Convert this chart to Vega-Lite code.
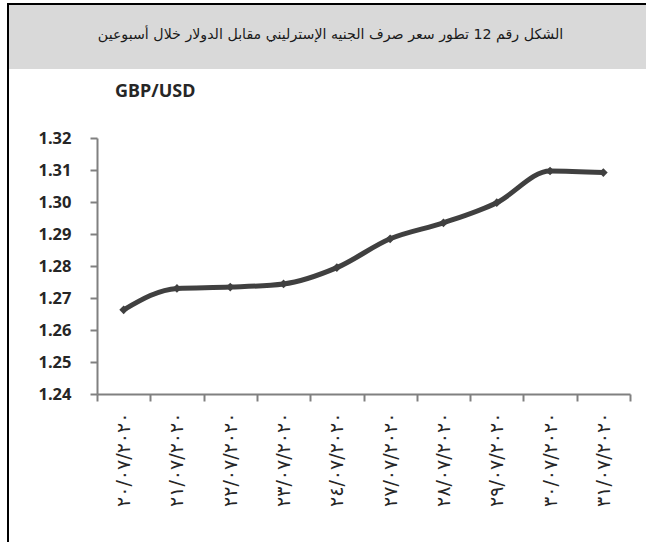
{
  "$schema": "https://vega.github.io/schema/vega-lite/v6.json",
  "background": "white",
  "padding": {"left": 0, "top": 3, "right": 0, "bottom": 0},
  "config": {"view": {"stroke": null}, "concat": {"spacing": 0}},
  "datasets": {
    "rates": [
      {"date": "٢٠/٠٧/٢٠٢٠", "rate": 1.2663},
      {"date": "٢١/٠٧/٢٠٢٠", "rate": 1.2730},
      {"date": "٢٢/٠٧/٢٠٢٠", "rate": 1.2734},
      {"date": "٢٣/٠٧/٢٠٢٠", "rate": 1.2744},
      {"date": "٢٤/٠٧/٢٠٢٠", "rate": 1.2795},
      {"date": "٢٧/٠٧/٢٠٢٠", "rate": 1.2885},
      {"date": "٢٨/٠٧/٢٠٢٠", "rate": 1.2935},
      {"date": "٢٩/٠٧/٢٠٢٠", "rate": 1.2998},
      {"date": "٣٠/٠٧/٢٠٢٠", "rate": 1.3097},
      {"date": "٣١/٠٧/٢٠٢٠", "rate": 1.3092}
    ],
    "caption": [
      {"text": "الشكل رقم 12 تطور سعر صرف الجنيه الإسترليني مقابل الدولار خلال أسبوعين"}
    ]
  },
  "spacing": 0,
  "bounds": "flush",
  "hconcat": [
    {
      "width": 2,
      "height": 539,
      "view": {"fill": "black", "stroke": null},
      "data": {"values": []},
      "mark": "point"
    },
    {
      "spacing": 14,
      "vconcat": [
        {
          "spacing": 0,
          "vconcat": [
            {
              "width": 637,
              "height": 2,
              "view": {"fill": "black", "stroke": null},
              "data": {"values": []},
              "mark": "point"
            },
            {
              "width": 637,
              "height": 64,
              "view": {"fill": "#d9d9d9", "stroke": null},
              "data": {"name": "caption"},
              "mark": {"type": "text", "font": "DejaVu Sans", "fontSize": 14.2, "color": "#1a1a1a", "baseline": "middle", "align": "center", "dy": -2, "dx": 3},
              "encoding": {"text": {"field": "text", "type": "nominal"}}
            }
          ]
        },
        {
          "width": 621,
          "height": 256,
          "data": {"name": "rates"},
          "title": {"text": "GBP/USD", "anchor": "start", "frame": "group", "dx": 106, "offset": 15, "baseline": "alphabetic", "font": "Noto Sans", "fontSize": 18, "fontWeight": "bold", "color": "#262626"},
          "encoding": {
            "x": {
              "field": "date", "type": "ordinal", "sort": null,
              "scale": {"paddingInner": 0, "paddingOuter": 0, "range": [88, 621]},
              "axis": {"title": null, "labelAngle": 270, "labelFont": "DejaVu Sans", "labelFontSize": 19, "labelColor": "#262626", "labelPadding": 11, "tickBand": "extent", "tickSize": 7, "tickColor": "#808080", "tickWidth": 2, "domainColor": "#808080", "domainWidth": 2, "grid": false}
            },
            "y": {
              "field": "rate", "type": "quantitative",
              "scale": {"domain": [1.24, 1.32], "zero": false, "nice": false},
              "axis": {"title": null, "offset": -88, "values": [1.24, 1.25, 1.26, 1.27, 1.28, 1.29, 1.30, 1.31, 1.32], "format": ".2f", "domainColor": "#808080", "domainWidth": 2, "tickColor": "#808080", "tickWidth": 2, "tickSize": 7, "labelPadding": 19, "labelFont": "Noto Sans", "labelFontSize": 16.5, "labelFontWeight": "bold", "labelColor": "#262626", "grid": false}
            }
          },
          "layer": [
            {"mark": {"type": "line", "interpolate": "monotone", "color": "#404040", "strokeWidth": 5}},
            {"mark": {"type": "point", "shape": "diamond", "filled": true, "color": "#404040", "size": 75, "opacity": 1}}
          ]
        }
      ]
    }
  ]
}
